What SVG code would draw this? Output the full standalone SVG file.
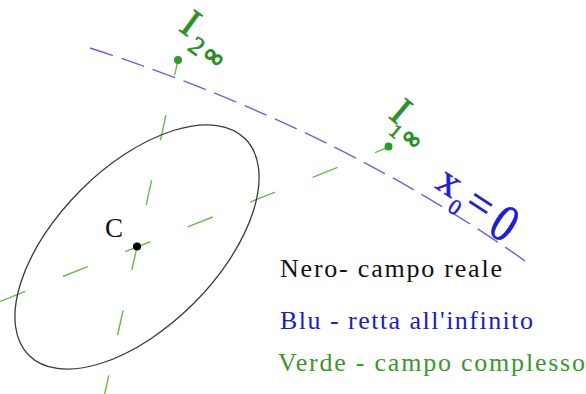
<svg xmlns="http://www.w3.org/2000/svg" width="586" height="394" viewBox="0 0 586 394">
<style>
.serif{font-family:"Liberation Serif","Times New Roman",serif}
.lbl{font-family:"Liberation Serif","Times New Roman",serif;fill:#2e8f2a;stroke:#2e8f2a;stroke-width:0.7;text-anchor:middle}
.inf{stroke-width:1.6}
.xl{font-family:"Liberation Serif","Times New Roman",serif;fill:#1f1fd0;stroke:#1f1fd0;stroke-width:0.5;text-anchor:middle}
.gdash{stroke:#6cb84e;stroke-width:1.4;fill:none}
.bdash{stroke:#6464e2;stroke-width:1.4;fill:none;stroke-dasharray:24 9}
</style>
<rect width="586" height="394" fill="#ffffff"/>
<g id="connectors">
  <path id="retta-infinito" class="bdash" d="M90,48 Q338,128 528,263"/>
  <line id="asse-I1" class="gdash" x1="389" y1="147" x2="0" y2="301.4" stroke-dasharray="26.9 40.3" stroke-dashoffset="11.9"/>
  <line id="asse-I2" class="gdash" x1="178" y1="60" x2="104.7" y2="394" stroke-dasharray="25.6 41" stroke-dashoffset="10.2"/>
</g>
<g id="conica">
  <ellipse cx="137" cy="247" rx="153" ry="80" transform="rotate(-45 137 247)" fill="none" stroke="#3a3a3a" stroke-width="1.3"/>
</g>
<g id="centro-C">
  <circle cx="137" cy="246.5" r="4" fill="#000"/>
  <text class="serif" x="105" y="237" font-size="27" fill="#111">C</text>
</g>
<g id="I2inf">
  <circle cx="178" cy="60" r="4" fill="#2e9a2a"/>
  <text class="lbl" font-size="40" transform="translate(191,23) rotate(36)" y="13.2">I</text>
  <text class="lbl" font-size="26" transform="translate(197,46) rotate(36)" y="8.8">2</text>
  <text class="lbl inf" font-size="26" font-weight="bold" transform="translate(213,58) rotate(36)" y="6.5">∞</text>
</g>
<g id="I1inf">
  <circle cx="388.5" cy="146.5" r="4" fill="#2e9a2a"/>
  <text class="lbl" font-size="40" transform="translate(401,111) rotate(40)" y="13.2">I</text>
  <text class="lbl" font-size="20" transform="translate(396,131) rotate(40)" y="6.8">1</text>
  <text class="lbl inf" font-size="24" font-weight="bold" transform="translate(411,140) rotate(40)" y="6">∞</text>
</g>
<g id="x0-label">
  <text class="xl" font-size="42" transform="translate(448,185) rotate(33)" y="9.5">x</text>
  <text class="xl" font-size="22" transform="translate(455,207) rotate(33)" y="7.4">0</text>
  <text class="xl" font-size="44" transform="translate(479,206) rotate(33)" y="11.5">=</text>
  <text class="xl" font-size="44" transform="translate(505,223) rotate(33) scale(1,1.2)" y="14.9">0</text>
</g>
<g id="legenda">
  <text class="serif" x="280" y="277" font-size="26" fill="#111" textLength="222" lengthAdjust="spacing">Nero- campo reale</text>
  <text class="serif" x="280" y="329" font-size="26" fill="#1c1cc8" textLength="253" lengthAdjust="spacing">Blu - retta all'infinito</text>
  <text class="serif" x="278" y="371" font-size="26" fill="#3a982c" textLength="307" lengthAdjust="spacing">Verde - campo complesso</text>
</g>
</svg>
